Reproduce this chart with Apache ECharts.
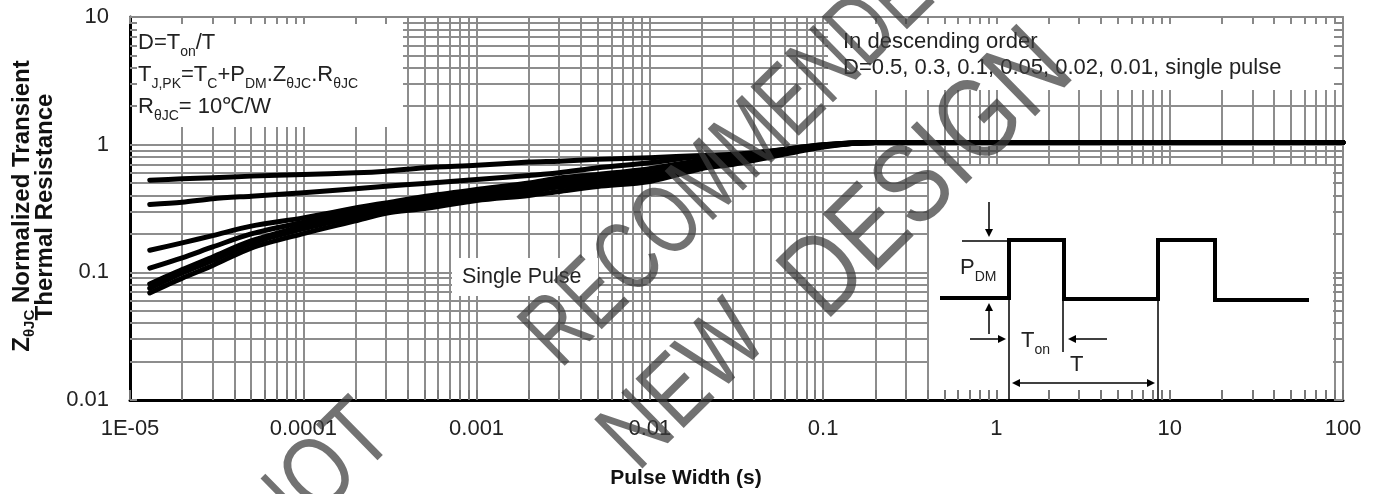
<!DOCTYPE html>
<html><head><meta charset="utf-8">
<script src="https://cdn.jsdelivr.net/npm/echarts@6/dist/echarts.min.js"></script>
<style>html,body{margin:0;padding:0;background:#fff}#c{width:1380px;height:494px}</style>
</head><body><div id="c"></div>
<script>
// ---- data ----
const pulseWidth = [1.3e-5, 2e-5, 3e-5, 5e-5, 1e-4, 2e-4, 3e-4, 5e-4, 1e-3, 2e-3, 3e-3, 5e-3, 1e-2, 2e-2, 3e-2, 5e-2, 0.1, 0.2, 1, 10, 100];
const seriesNames = ['D=0.5', 'D=0.3', 'D=0.1', 'D=0.05', 'D=0.02', 'D=0.01', 'Single Pulse'];
const zD05    = [0.527, 0.54, 0.55, 0.567, 0.585, 0.602, 0.62, 0.659, 0.69, 0.73, 0.743, 0.767, 0.79, 0.824, 0.84, 0.893, 1.0, 1.04, 1.04, 1.04, 1.04];
const zD03    = [0.34, 0.354, 0.377, 0.395, 0.42, 0.451, 0.473, 0.497, 0.533, 0.574, 0.602, 0.659, 0.722, 0.81, 0.825, 0.89, 1.0, 1.04, 1.04, 1.04, 1.04];
const zD01    = [0.149, 0.17, 0.194, 0.23, 0.267, 0.319, 0.35, 0.393, 0.445, 0.50, 0.548, 0.584, 0.648, 0.76, 0.80, 0.87, 0.99, 1.04, 1.04, 1.04, 1.04];
const zD005   = [0.108, 0.13, 0.158, 0.2, 0.247, 0.30, 0.335, 0.372, 0.422, 0.475, 0.52, 0.546, 0.60, 0.72, 0.77, 0.85, 0.985, 1.04, 1.04, 1.04, 1.04];
const zD002   = [0.081, 0.105, 0.132, 0.176, 0.23, 0.285, 0.315, 0.354, 0.40, 0.45, 0.49, 0.516, 0.569, 0.69, 0.74, 0.83, 0.975, 1.04, 1.04, 1.04, 1.04];
const zD001   = [0.075, 0.099, 0.124, 0.168, 0.219, 0.272, 0.305, 0.338, 0.386, 0.43, 0.465, 0.497, 0.544, 0.675, 0.73, 0.82, 0.97, 1.04, 1.04, 1.04, 1.04];
const zSingle = [0.069, 0.09, 0.113, 0.155, 0.201, 0.253, 0.29, 0.316, 0.365, 0.40, 0.43, 0.47, 0.515, 0.65, 0.70, 0.80, 0.96, 1.04, 1.04, 1.04, 1.04];
const xTickLabels = ['1E-05', '0.0001', '0.001', '0.01', '0.1', '1', '10', '100'];
const yTickLabels = ['0.01', '0.1', '1', '10'];

const allSeries = [zD05, zD03, zD01, zD005, zD002, zD001, zSingle];
const FONT = '"Liberation Sans", Arial, Helvetica, sans-serif';
const GRIDC = '#8d8d8d';

const chart = echarts.init(document.getElementById('c'), null, {renderer: 'canvas'});

const gridPos = {left: 130, right: 37, top: 17, bottom: 94};
function xFmt(v) { return xTickLabels[Math.round(Math.log10(v)) + 5] || ''; }
function yFmt(v) { return yTickLabels[Math.round(Math.log10(v)) + 2] || ''; }

const baseX = {type: 'log', logBase: 10, min: 1e-5, max: 100, splitNumber: 7};
const baseY = {type: 'log', logBase: 10, min: 0.01, max: 10, splitNumber: 3};

const sub = {fontSize: 14, lineHeight: 14, padding: [13, 0, 0, 0], verticalAlign: 'top', fontFamily: FONT, fill: '#222'};
const mainT = {fontSize: 22, lineHeight: 26, verticalAlign: 'top', fontFamily: FONT, fill: '#222'};

function arrowHead(tx, ty, dir) {
  const L = 8, W = 4;
  let pts;
  if (dir === 'down') pts = [[tx, ty], [tx - W, ty - L], [tx + W, ty - L]];
  else if (dir === 'up') pts = [[tx, ty], [tx - W, ty + L], [tx + W, ty + L]];
  else if (dir === 'right') pts = [[tx, ty], [tx - L, ty - W], [tx - L, ty + W]];
  else pts = [[tx, ty], [tx + L, ty - W], [tx + L, ty + W]];
  return {type: 'polygon', z: 5, shape: {points: pts}, style: {fill: '#000'}};
}
function seg(x1, y1, x2, y2, w) {
  return {type: 'line', z: 5, shape: {x1, y1, x2, y2}, style: {stroke: '#000', lineWidth: w || 1.5}};
}
function wm(text, x, y, size, sy) {
  return {type: 'text', z: 20, x, y, rotation: 44.5 * Math.PI / 180, scaleY: sy || 1.25,
    style: {text, fontSize: size, fontFamily: FONT, fill: 'rgba(60,60,60,0.72)', textAlign: 'center', textVerticalAlign: 'middle'}};
}
function whiteRect(x, y, w, h) {
  return {type: 'rect', z: 1, shape: {x, y, width: w, height: h}, style: {fill: '#fff'}};
}
const yTitleStyle = {fontSize: 24, fontWeight: 'bold', fontFamily: FONT, fill: '#111', textAlign: 'center', textVerticalAlign: 'middle'};

const option = {
  animation: false,
  backgroundColor: '#fff',
  grid: [Object.assign({}, gridPos), Object.assign({}, gridPos)],
  xAxis: [
    Object.assign({}, baseX, {gridIndex: 0, z: 0, axisLine: {show: false}, axisTick: {show: false}, axisLabel: {show: false},
      splitLine: {show: true, lineStyle: {color: GRIDC, width: 2}},
      minorTick: {show: false, splitNumber: 9},
      minorSplitLine: {show: true, lineStyle: {color: GRIDC, width: 2}}}),
    Object.assign({}, baseX, {gridIndex: 1, z: 3, position: 'bottom',
      axisLine: {show: true, lineStyle: {color: '#000', width: 3}},
      axisTick: {show: true, inside: true, length: 10, lineStyle: {color: '#777', width: 2}},
      minorTick: {show: true, splitNumber: 9, length: 10, lineStyle: {color: '#777', width: 2}},
      splitLine: {show: false},
      axisLabel: {show: true, formatter: xFmt, fontSize: 22, color: '#222', fontFamily: FONT, margin: 18}}),
    Object.assign({}, baseX, {gridIndex: 1, z: 3, position: 'top',
      axisLine: {show: true, lineStyle: {color: '#888', width: 2}},
      axisTick: {show: true, inside: true, length: 7, lineStyle: {color: '#888', width: 2}},
      minorTick: {show: true, splitNumber: 9, length: 7, lineStyle: {color: '#888', width: 2}},
      splitLine: {show: false}, axisLabel: {show: false}})
  ],
  yAxis: [
    Object.assign({}, baseY, {gridIndex: 0, z: 0, axisLine: {show: false}, axisTick: {show: false}, axisLabel: {show: false},
      splitLine: {show: true, lineStyle: {color: GRIDC, width: 2}},
      minorTick: {show: false, splitNumber: 9},
      minorSplitLine: {show: true, lineStyle: {color: GRIDC, width: 2}}}),
    Object.assign({}, baseY, {gridIndex: 1, z: 3, position: 'left',
      axisLine: {show: true, lineStyle: {color: '#000', width: 3}},
      axisTick: {show: true, inside: true, length: 7, lineStyle: {color: '#888', width: 2}},
      minorTick: {show: true, splitNumber: 9, length: 7, lineStyle: {color: '#888', width: 2}},
      splitLine: {show: false},
      axisLabel: {show: true, formatter: yFmt, fontSize: 22, color: '#222', fontFamily: FONT, margin: 21}}),
    Object.assign({}, baseY, {gridIndex: 1, z: 3, position: 'right',
      axisLine: {show: true, lineStyle: {color: '#888', width: 2}},
      axisTick: {show: true, inside: true, length: 9, lineStyle: {color: '#888', width: 2}},
      minorTick: {show: true, splitNumber: 9, length: 9, lineStyle: {color: '#888', width: 2}},
      splitLine: {show: false}, axisLabel: {show: false}})
  ],
  series: allSeries.map((arr, k) => ({
    name: seriesNames[k], type: 'line', xAxisIndex: 1, yAxisIndex: 1, z: 4,
    data: pulseWidth.map((x, i) => [x, arr[i]]),
    smooth: 0.3, showSymbol: false, symbol: 'none',
    lineStyle: {color: '#000', width: 5, cap: 'round', join: 'round'}
  })),
  graphic: [
    // areas without grid in the original figure
    whiteRect(132, 19, 271, 108),
    whiteRect(828, 19, 513, 71),
    whiteRect(452, 258, 146, 38),
    whiteRect(929, 166, 404, 232),
    // annotations top-left
    {type: 'text', z: 5, x: 138, y: 32, style: {text: '{m|D=T}{s|on}{m|/T}', rich: {m: mainT, s: sub}}},
    {type: 'text', z: 5, x: 138, y: 64, style: {text: '{m|T}{s|J,PK}{m|=T}{s|C}{m|+P}{s|DM}{m|.Z}{s|θJC}{m|.R}{s|θJC}', rich: {m: mainT, s: sub}}},
    {type: 'text', z: 5, x: 138, y: 96, style: {text: '{m|R}{s|θJC}{m|= 10℃/W}', rich: {m: mainT, s: sub}}},
    // top-right note
    {type: 'text', z: 5, x: 843, y: 42, style: {text: 'In descending order', fontSize: 22, fontFamily: FONT, fill: '#222', textVerticalAlign: 'middle'}},
    {type: 'text', z: 5, x: 843, y: 68, style: {text: 'D=0.5, 0.3, 0.1, 0.05, 0.02, 0.01, single pulse', fontSize: 22, fontFamily: FONT, fill: '#222', textVerticalAlign: 'middle'}},
    {type: 'text', z: 5, x: 462, y: 277, style: {text: 'Single Pulse', fontSize: 21.5, fontFamily: FONT, fill: '#222', textVerticalAlign: 'middle'}},
    // axis titles
    {type: 'text', z: 5, x: 686, y: 478, style: {text: 'Pulse Width (s)', fontSize: 21, fontWeight: 'bold', fontFamily: FONT, fill: '#111', textAlign: 'center', textVerticalAlign: 'middle'}},
    {type: 'text', z: 5, x: 22, y: 206, rotation: Math.PI / 2, style: Object.assign({}, yTitleStyle, {
      text: '{b|Z}{bs|θJC}{b| Normalized Transient}',
      rich: {
        b: {fontSize: 24, fontWeight: 'bold', lineHeight: 24, verticalAlign: 'top', fontFamily: FONT, fill: '#111'},
        bs: {fontSize: 15, fontWeight: 'bold', lineHeight: 15, padding: [12, 0, 0, 0], verticalAlign: 'top', fontFamily: FONT, fill: '#111'}
      }})},
    {type: 'text', z: 5, x: 45, y: 207, rotation: Math.PI / 2, style: Object.assign({}, yTitleStyle, {text: 'Thermal Resistance'})},
    // inset: pulse train
    {type: 'polyline', z: 5, shape: {points: [[940, 298], [1009, 298], [1009, 240], [1064, 240], [1064, 299], [1158, 299], [1158, 240], [1215, 240], [1215, 300], [1309, 300]]},
      style: {stroke: '#000', lineWidth: 4, fill: null}},
    seg(962, 241, 1007, 241),
    seg(1009, 300, 1009, 399),
    seg(1063, 301, 1063, 352),
    seg(1158, 301, 1158, 399),
    seg(989, 202, 989, 231), arrowHead(989, 237, 'down'),
    seg(989, 334, 989, 309), arrowHead(989, 303, 'up'),
    seg(970, 339, 999, 339), arrowHead(1006, 339, 'right'),
    seg(1107, 339, 1075, 339), arrowHead(1068, 339, 'left'),
    seg(1019, 383, 1148, 383), arrowHead(1012, 383, 'left'), arrowHead(1155, 383, 'right'),
    {type: 'text', z: 5, x: 960, y: 257, style: {text: '{m|P}{s|DM}', rich: {m: mainT, s: sub}}},
    {type: 'text', z: 5, x: 1021, y: 330, style: {text: '{m|T}{s|on}', rich: {m: mainT, s: sub}}},
    {type: 'text', z: 5, x: 1070, y: 354, style: {text: 'T', fontSize: 22, fontFamily: FONT, fill: '#222'}},
    // watermark
    wm('NOT', 318, 480, 80),
    wm('RECOMMENDED', 748, 147, 72, 1.39),
    wm('NEW', 685, 388, 80),
    wm('DESIGN', 929, 176, 92)
  ]
};
chart.setOption(option);
</script>
</body></html>
